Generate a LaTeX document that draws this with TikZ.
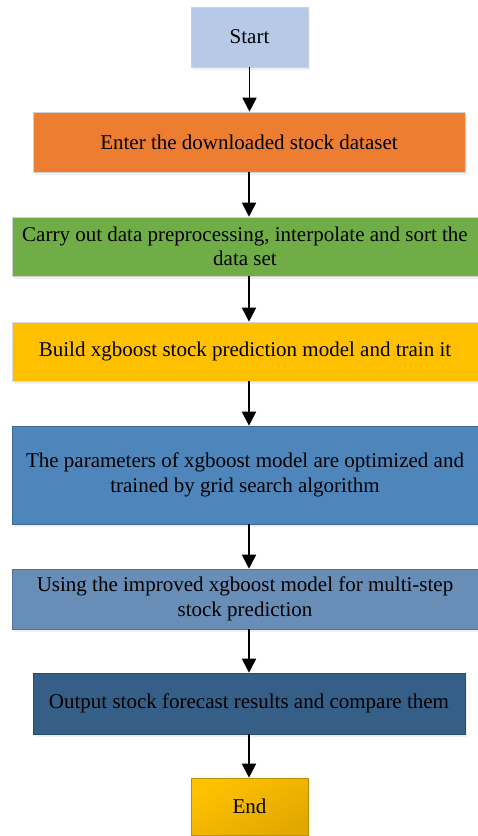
\documentclass[tikz,border=0pt]{standalone}
\usepackage{fontspec}
\setmainfont{Liberation Serif}
\usetikzlibrary{arrows.meta,shadows}
\definecolor{cstart}{RGB}{182,201,231}
\definecolor{corange}{RGB}{237,125,49}
\definecolor{cgreen}{RGB}{112,173,71}
\definecolor{cyellow}{RGB}{255,192,0}
\definecolor{cblue}{RGB}{78,134,187}
\definecolor{csteel}{RGB}{104,142,184}
\definecolor{cdark}{RGB}{54,95,135}
\definecolor{cgoldA}{RGB}{255,194,0}
\definecolor{cgoldB}{RGB}{226,168,0}
\begin{document}
\begin{tikzpicture}[x=1pt,y=-1pt,
  box/.style={rectangle,draw=#1!80!black,line width=0.6pt,inner sep=0pt,align=center,
    font=\fontsize{21}{24.5}\selectfont,text=black,
    drop shadow={opacity=0.12,shadow xshift=1.5pt,shadow yshift=-3pt}},
  arr/.style={line width=1.8pt,-{Triangle[width=14pt,length=14pt]}}]
\useasboundingbox (0,0) rectangle (478,836);
\node[box=cstart,draw=black!18,fill=cstart,minimum width=117pt,minimum height=60pt] (start) at (249.5,37) {Start};
\node[box=corange,draw=black!18,fill=corange,minimum width=432pt,minimum height=60pt] (n1) at (249,142) {Enter the downloaded stock dataset};
\node[box=cgreen,draw=black!18,fill=cgreen,minimum width=466pt,minimum height=59pt] (n2) at (245,246.5) {Carry out data preprocessing, interpolate and sort the\\ data set};
\node[box=cyellow,draw=black!15,fill=cyellow,minimum width=466pt,minimum height=59pt] (n3) at (245,351.5) {Build xgboost stock prediction model and train it};
\node[box=cblue,fill=cblue,minimum width=466pt,minimum height=98pt] (n4) at (245,475) {The parameters of xgboost model are optimized and\\ trained by grid search algorithm};
\node[box=csteel,fill=csteel,minimum width=466pt,minimum height=60pt] (n5) at (245,599) {Using the improved xgboost model for multi-step\\ stock prediction};
\node[box=cdark,fill=cdark,minimum width=432pt,minimum height=61pt] (n6) at (249,703.5) {Output stock forecast results and compare them};
\node[box=cgoldB,draw=cgoldB!85!black,top color=cgoldA,bottom color=cgoldB,shading angle=30,minimum width=117pt,minimum height=57pt] (end) at (249.5,806.5) {End};
\draw[arr] (start.south) -- (start.south |- n1.north);
\draw[arr] (n1.south) -- (n1.south |- n2.north);
\draw[arr] (n1.south |- n2.south) -- (n1.south |- n3.north);
\draw[arr] (n1.south |- n3.south) -- (n1.south |- n4.north);
\draw[arr] (n1.south |- n4.south) -- (n1.south |- n5.north);
\draw[arr] (n1.south |- n5.south) -- (n6.north);
\draw[arr] (n6.south) -- (n6.south |- end.north);
\end{tikzpicture}
\end{document}
